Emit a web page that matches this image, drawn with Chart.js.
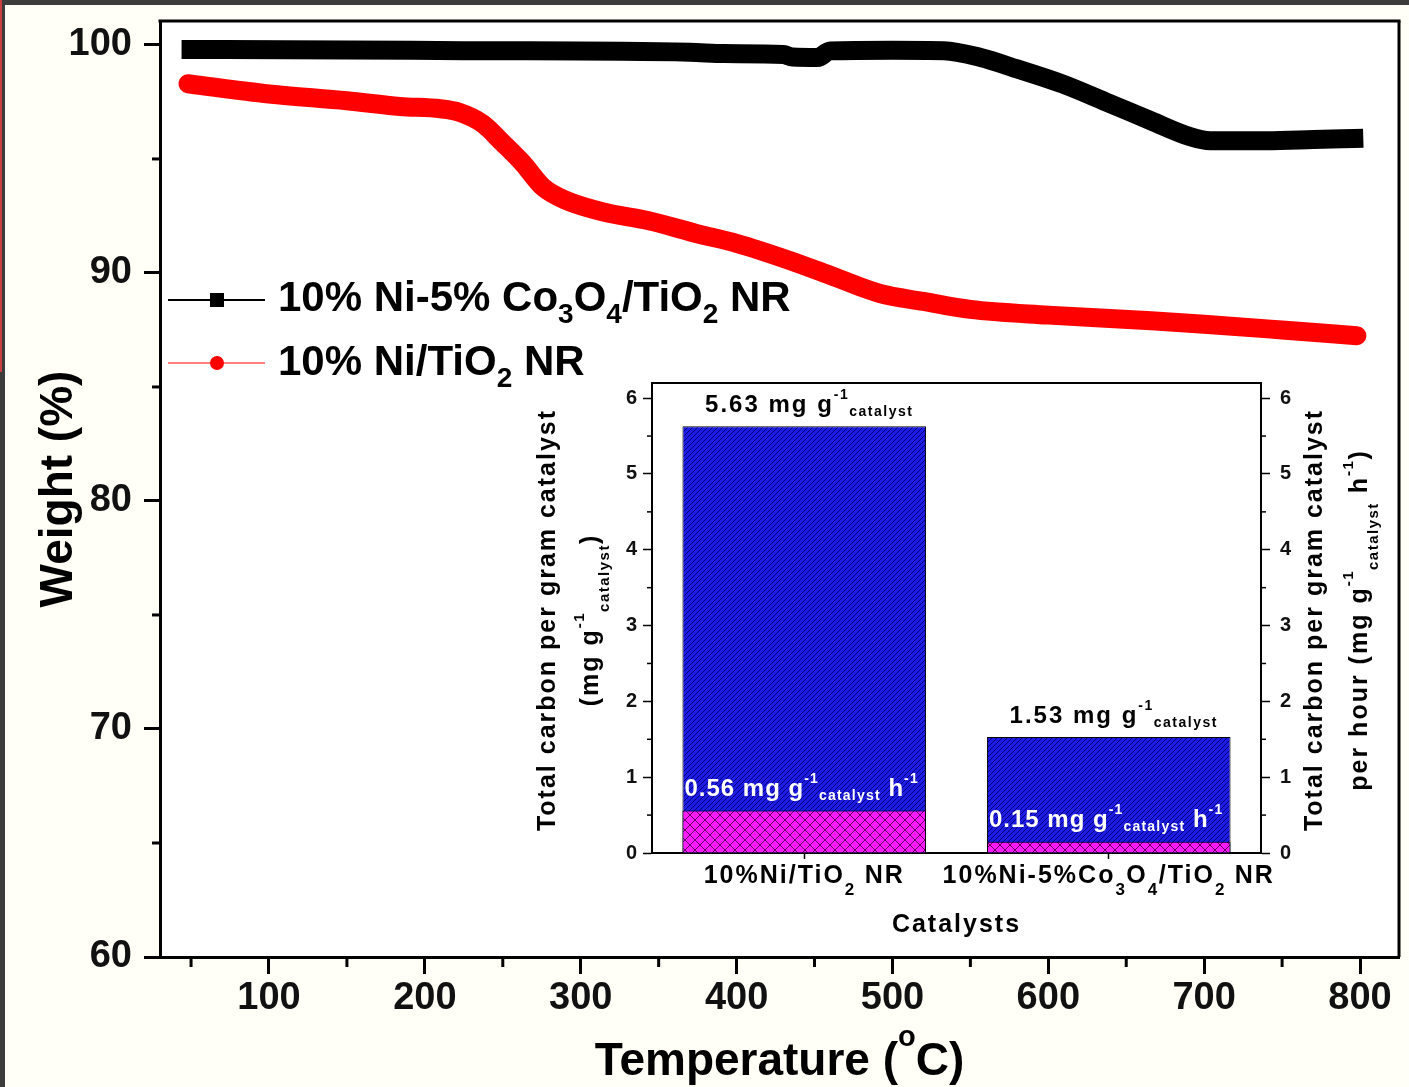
<!DOCTYPE html>
<html>
<head>
<meta charset="utf-8">
<script src="https://cdn.jsdelivr.net/npm/chart.js@4.4.1/dist/chart.umd.min.js"></script>
<style>
  html, body { margin: 0; padding: 0; background: #3c3c3c; }
  #edge { position: absolute; left: 0; top: 0; width: 2px; height: 372px; background: #c84040; }
  #frame { position: absolute; left: 5px; top: 5px; width: 1404px; height: 1082px; background: #fffff8; }
  #tga { position: absolute; left: 0; top: 0; }
  #inset { position: absolute; left: 515px; top: 370px; }
</style>
</head>
<body>
<div id="edge"></div>
<div id="frame">
  <canvas id="tga" width="1404" height="1082"></canvas>
  <canvas id="inset" width="880" height="575"></canvas>
</div>
<script>
// TGA curves
const tempNiCo = [50, 110, 225, 370, 392, 430, 436, 452, 460, 500, 533, 556, 580, 609, 637, 666, 690, 704, 740, 770, 796];
const weightNiCo = [99.8, 99.79, 99.75, 99.68, 99.62, 99.58, 99.47, 99.45, 99.74, 99.77, 99.75, 99.46, 98.95, 98.29, 97.5, 96.67, 96.0, 95.8, 95.8, 95.85, 95.9];
const tempNi = [48, 100, 150, 184, 210, 222, 237, 250, 263, 276, 290, 316, 343, 376, 400, 434, 460, 492, 520, 550, 600, 666, 700, 750, 798];
const weightNi = [98.3, 97.85, 97.55, 97.3, 97.2, 97.05, 96.55, 95.7, 94.8, 93.75, 93.2, 92.65, 92.3, 91.7, 91.3, 90.55, 89.9, 89.1, 88.75, 88.4, 88.15, 87.9, 87.75, 87.5, 87.25];
const seriesNames = ['10% Ni-5% Co3O4/TiO2 NR', '10% Ni/TiO2 NR'];

const xTicks = [100, 200, 300, 400, 500, 600, 700, 800];
const xMinorTicks = [50, 150, 250, 350, 450, 550, 650, 750];
const yTicks = [60, 70, 80, 90, 100];
const yMinorTicks = [65, 75, 85, 95];

// inset: carbon deposited
const catalysts = ['10%Ni/TiO2 NR', '10%Ni-5%Co3O4/TiO2 NR'];
const totalCarbon = [5.63, 1.53];
const carbonRate = [0.56, 0.15];
const insetTicks = [0, 1, 2, 3, 4, 5, 6];
const insetMinorTicks = [0.5, 1.5, 2.5, 3.5, 4.5, 5.5];

const FONT = "'Liberation Sans', Arial, sans-serif";

// split a formula so digits after letters become subscripts
function chem(str) {
    const segs = [];
    for (let i = 0; i < str.length; i++) {
        const c = str[i];
        const kind = /\d/.test(c) && i > 0 && /[A-Za-z]/.test(str[i - 1]) ? 'sub' : '';
        if (segs.length && segs[segs.length - 1][1] === kind) segs[segs.length - 1][0] += c;
        else segs.push([c, kind]);
    }
    return segs;
}

function drawRich(ctx, segs, x, y, o) {
    const sizeOf = k => k === 'sup' ? o.supSize : k === 'sub' ? o.subSize : o.size;
    const shiftOf = k => k === 'sup' ? o.supShift : k === 'sub' ? o.subShift : 0;
    ctx.save();
    ctx.fillStyle = o.color || '#000';
    ctx.textBaseline = 'alphabetic';
    ctx.textAlign = 'left';
    let total = 0;
    const widths = segs.map(([t, k]) => {
        ctx.font = 'bold ' + sizeOf(k) + 'px ' + FONT;
        ctx.letterSpacing = (k ? (o.smallSpacing || 0) : (o.spacing || 0)) + 'px';
        const w = ctx.measureText(t).width;
        total += w;
        return w;
    });
    let cx = o.align === 'center' ? x - total / 2 : x;
    segs.forEach(([t, k], i) => {
        ctx.font = 'bold ' + sizeOf(k) + 'px ' + FONT;
        ctx.letterSpacing = (k ? (o.smallSpacing || 0) : (o.spacing || 0)) + 'px';
        ctx.fillText(t, cx, y + shiftOf(k));
        cx += widths[i];
    });
    ctx.restore();
}

function drawRotated(ctx, segs, x, y, o) {
    ctx.save();
    ctx.translate(x, y);
    ctx.rotate(-Math.PI / 2);
    drawRich(ctx, segs, 0, 0, Object.assign({ align: 'center' }, o));
    ctx.restore();
}

function tickLine(ctx, x1, y1, x2, y2) {
    ctx.beginPath();
    ctx.moveTo(x1, y1);
    ctx.lineTo(x2, y2);
    ctx.stroke();
}

// keep the plot area where it is, whatever the tick labels want
function noPad(s) {
    s.paddingTop = 0; s.paddingBottom = 0; s.paddingLeft = 0; s.paddingRight = 0;
}

// ---------- main TGA chart ----------
const tgaDecor = {
    id: 'tgaDecor',
    beforeDraw(chart) {
        const a = chart.chartArea, ctx = chart.ctx;
        ctx.save();
        ctx.fillStyle = '#fff';
        ctx.fillRect(a.left, a.top, a.right - a.left, a.bottom - a.top);
        ctx.restore();
    },
    afterDraw(chart) {
        const a = chart.chartArea, ctx = chart.ctx;
        const xs = chart.scales.x, ys = chart.scales.y;
        ctx.save();
        ctx.strokeStyle = '#000';
        ctx.lineWidth = 3;
        tickLine(ctx, a.left - 1.5, a.top, a.right + 1.5, a.top);
        tickLine(ctx, a.right, a.top, a.right, a.bottom);
        xMinorTicks.forEach(v => { const p = xs.getPixelForValue(v); tickLine(ctx, p, a.bottom, p, a.bottom + 10); });
        yMinorTicks.forEach(v => { const p = ys.getPixelForValue(v); tickLine(ctx, a.left - 8, p, a.left, p); });

        // legend
        const rows = [
            { y: 295, base: 306, color: '#000', lw: 2, marker: 'square' },
            { y: 358, base: 370, color: '#ff0000', lw: 1, marker: 'circle' }
        ];
        rows.forEach((r, i) => {
            ctx.strokeStyle = r.color;
            ctx.lineWidth = r.lw;
            tickLine(ctx, 163, r.y, 260, r.y);
            ctx.fillStyle = r.color;
            if (r.marker === 'square') ctx.fillRect(205, r.y - 7, 14, 14);
            else { ctx.beginPath(); ctx.arc(212, r.y, 7, 0, Math.PI * 2); ctx.fill(); }
            drawRich(ctx, chem(chart.data.datasets[i].label), 273, r.base,
                { size: 42, subSize: 28, subShift: 12 });
        });
        ctx.restore();

        // axis titles
        drawRich(ctx, [['Temperature (', ''], ['o', 'sup'], ['C)', '']], (a.left + a.right) / 2, 1070,
            { size: 46, supSize: 29, supShift: -29, align: 'center' });
        drawRotated(ctx, [['Weight (%)', '']], 67, (a.top + a.bottom) / 2, { size: 46 });
    }
};

const tickFont = { family: FONT, size: 38, weight: 'bold' };

new Chart(document.getElementById('tga'), {
    type: 'line',
    data: {
        datasets: [
            {
                label: seriesNames[0],
                data: tempNiCo.map((t, i) => ({ x: t, y: weightNiCo[i] })),
                borderColor: '#000',
                borderWidth: 19,
                borderCapStyle: 'square',
                borderJoinStyle: 'round',
                pointRadius: 0,
                cubicInterpolationMode: 'monotone'
            },
            {
                label: seriesNames[1],
                data: tempNi.map((t, i) => ({ x: t, y: weightNi[i] })),
                borderColor: '#ff0000',
                borderWidth: 19,
                borderCapStyle: 'round',
                borderJoinStyle: 'round',
                pointRadius: 0,
                cubicInterpolationMode: 'monotone'
            }
        ]
    },
    options: {
        responsive: false,
        animation: false,
        layout: { padding: { left: 0, top: 16, right: 10, bottom: 0 } },
        plugins: { legend: { display: false }, tooltip: { enabled: false } },
        scales: {
            x: {
                type: 'linear',
                min: 30.07,
                max: 825,
                afterBuildTicks: s => { s.ticks = xTicks.map(v => ({ value: v })); },
                afterFit: s => { s.height = 130; noPad(s); },
                border: { color: '#000', width: 3 },
                grid: { drawOnChartArea: false, tickLength: 17, tickWidth: 3, tickColor: '#000' },
                ticks: { font: tickFont, color: '#111', padding: 2, maxRotation: 0, autoSkip: false }
            },
            y: {
                min: 60,
                max: 101.05,
                afterBuildTicks: s => { s.ticks = yTicks.map(v => ({ value: v })); },
                afterFit: s => { s.width = 155; noPad(s); },
                border: { color: '#000', width: 3 },
                grid: { drawOnChartArea: false, tickLength: 16, tickWidth: 3, tickColor: '#000' },
                ticks: { font: tickFont, color: '#111', padding: 12 }
            }
        }
    },
    plugins: [tgaDecor]
});

// ---------- inset bar chart ----------
function hatch(size, base, line, width, cross) {
    const c = document.createElement('canvas');
    c.width = size; c.height = size;
    const g = c.getContext('2d');
    g.fillStyle = base;
    g.fillRect(0, 0, size, size);
    g.strokeStyle = line;
    g.lineWidth = width;
    const diag = (x1, y1, x2, y2) => { g.beginPath(); g.moveTo(x1, y1); g.lineTo(x2, y2); g.stroke(); };
    diag(-1, size + 1, size + 1, -1);
    diag(-1, 1, 1, -1);
    diag(size - 1, size + 1, size + 1, size - 1);
    if (cross) {
        diag(-1, -1, size + 1, size + 1);
        diag(size - 1, -1, size + 1, 1);
        diag(-1, size - 1, 1, size + 1);
    }
    return g.createPattern(c, 'repeat');
}

const bluePattern = hatch(5, '#1c1ce2', '#00007a', 1, false);
const magentaPattern = hatch(10, '#ff1aff', '#400040', 0.8, true);

const insetText = { size: 25, spacing: 2, supSize: 14, subSize: 14, smallSpacing: 1.5 };

const insetDecor = {
    id: 'insetDecor',
    afterDraw(chart) {
        const a = chart.chartArea, ctx = chart.ctx;
        const xs = chart.scales.x, yl = chart.scales.y, yr = chart.scales.y2;
        ctx.save();
        ctx.strokeStyle = '#000';
        ctx.lineWidth = 2;
        tickLine(ctx, a.left - 1, a.top, a.right + 1, a.top);
        ctx.lineWidth = 1.5;
        insetMinorTicks.forEach(v => {
            const p = yl.getPixelForValue(v);
            tickLine(ctx, a.left - 5, p, a.left, p);
            const q = yr.getPixelForValue(v);
            tickLine(ctx, a.right, q, a.right + 5, q);
        });
        ctx.restore();

        // category labels and axis titles
        catalysts.forEach((c, i) => {
            drawRich(ctx, chem(c), xs.getPixelForTick(i), 508,
                Object.assign({}, insetText, { align: 'center', subSize: 17, subShift: 12 }));
        });
        drawRich(ctx, [['Catalysts', '']], (a.left + a.right) / 2, 557, Object.assign({}, insetText, { align: 'center' }));

        const cy = (a.top + a.bottom) / 2 + 2;
        const axisOpts = Object.assign({}, insetText, { supSize: 15, supShift: -14, subSize: 15, subShift: 11 });
        drawRotated(ctx, [['Total carbon per gram catalyst', '']], 35, cy, axisOpts);
        drawRotated(ctx, [['(mg g', ''], ['-1', 'sup'], ['catalyst', 'sub'], [')', '']], 78, cy, axisOpts);
        drawRotated(ctx, [['Total carbon per gram catalyst', '']], 802, cy, axisOpts);
        drawRotated(ctx, [['per hour (mg g', ''], ['-1', 'sup'], ['catalyst', 'sub'], [' h', ''], ['-1', 'sup'], [')', '']], 847, cy, axisOpts);

        // value labels
        const rateMeta = chart.getDatasetMeta(0), totalMeta = chart.getDatasetMeta(1);
        const annOpts = Object.assign({}, insetText, { size: 24, supShift: -13, subShift: 4, align: 'center' });
        totalMeta.data.forEach((bar, i) => {
            drawRich(ctx, [[totalCarbon[i].toFixed(2) + ' mg g', ''], ['-1', 'sup'], ['catalyst', 'sub']],
                bar.x + 5, bar.y - 14, annOpts);
        });
        const rateOpts = Object.assign({}, annOpts, { align: 'left', color: '#fff', spacing: 1, smallSpacing: 1.2 });
        rateMeta.data.forEach((bar, i) => {
            drawRich(ctx, [[carbonRate[i].toFixed(2) + ' mg g', ''], ['-1', 'sup'], ['catalyst', 'sub'], [' h', ''], ['-1', 'sup']],
                bar.x - bar.width / 2 + 2, bar.y - 15, rateOpts);
        });
    }
};

const insetTickFont = { family: FONT, size: 20, weight: 'bold' };
const insetAxis = (position, pad, width) => ({
    position: position,
    min: 0,
    max: 6.2,
    afterBuildTicks: s => { s.ticks = insetTicks.map(v => ({ value: v })); },
    afterFit: s => { s.width = width; noPad(s); },
    border: { color: '#000', width: 2 },
    grid: { drawOnChartArea: false, tickLength: 9, tickWidth: 1.5, tickColor: '#000' },
    ticks: { font: insetTickFont, color: '#111', padding: pad }
});

new Chart(document.getElementById('inset'), {
    type: 'bar',
    data: {
        labels: catalysts,
        datasets: [
            { label: 'rate', data: carbonRate, yAxisID: 'y2', backgroundColor: magentaPattern, borderColor: '#000', borderWidth: 1 },
            { label: 'total', data: totalCarbon, yAxisID: 'y', backgroundColor: bluePattern, borderColor: '#000', borderWidth: 1 }
        ]
    },
    options: {
        responsive: false,
        animation: false,
        datasets: { bar: { grouped: false, barPercentage: 0.8, categoryPercentage: 1 } },
        layout: { padding: { left: 0, top: 8, right: 0, bottom: 0 } },
        plugins: { legend: { display: false }, tooltip: { enabled: false } },
        scales: {
            x: {
                ticks: { display: false },
                afterFit: s => { s.height = 97; noPad(s); },
                border: { color: '#000', width: 2 },
                grid: { offset: false, drawOnChartArea: false, tickLength: 6, tickWidth: 1.5, tickColor: '#000' }
            },
            y: insetAxis('left', 6, 132),
            y2: insetAxis('right', 10, 139)
        }
    },
    plugins: [insetDecor]
});
</script>
</body>
</html>
